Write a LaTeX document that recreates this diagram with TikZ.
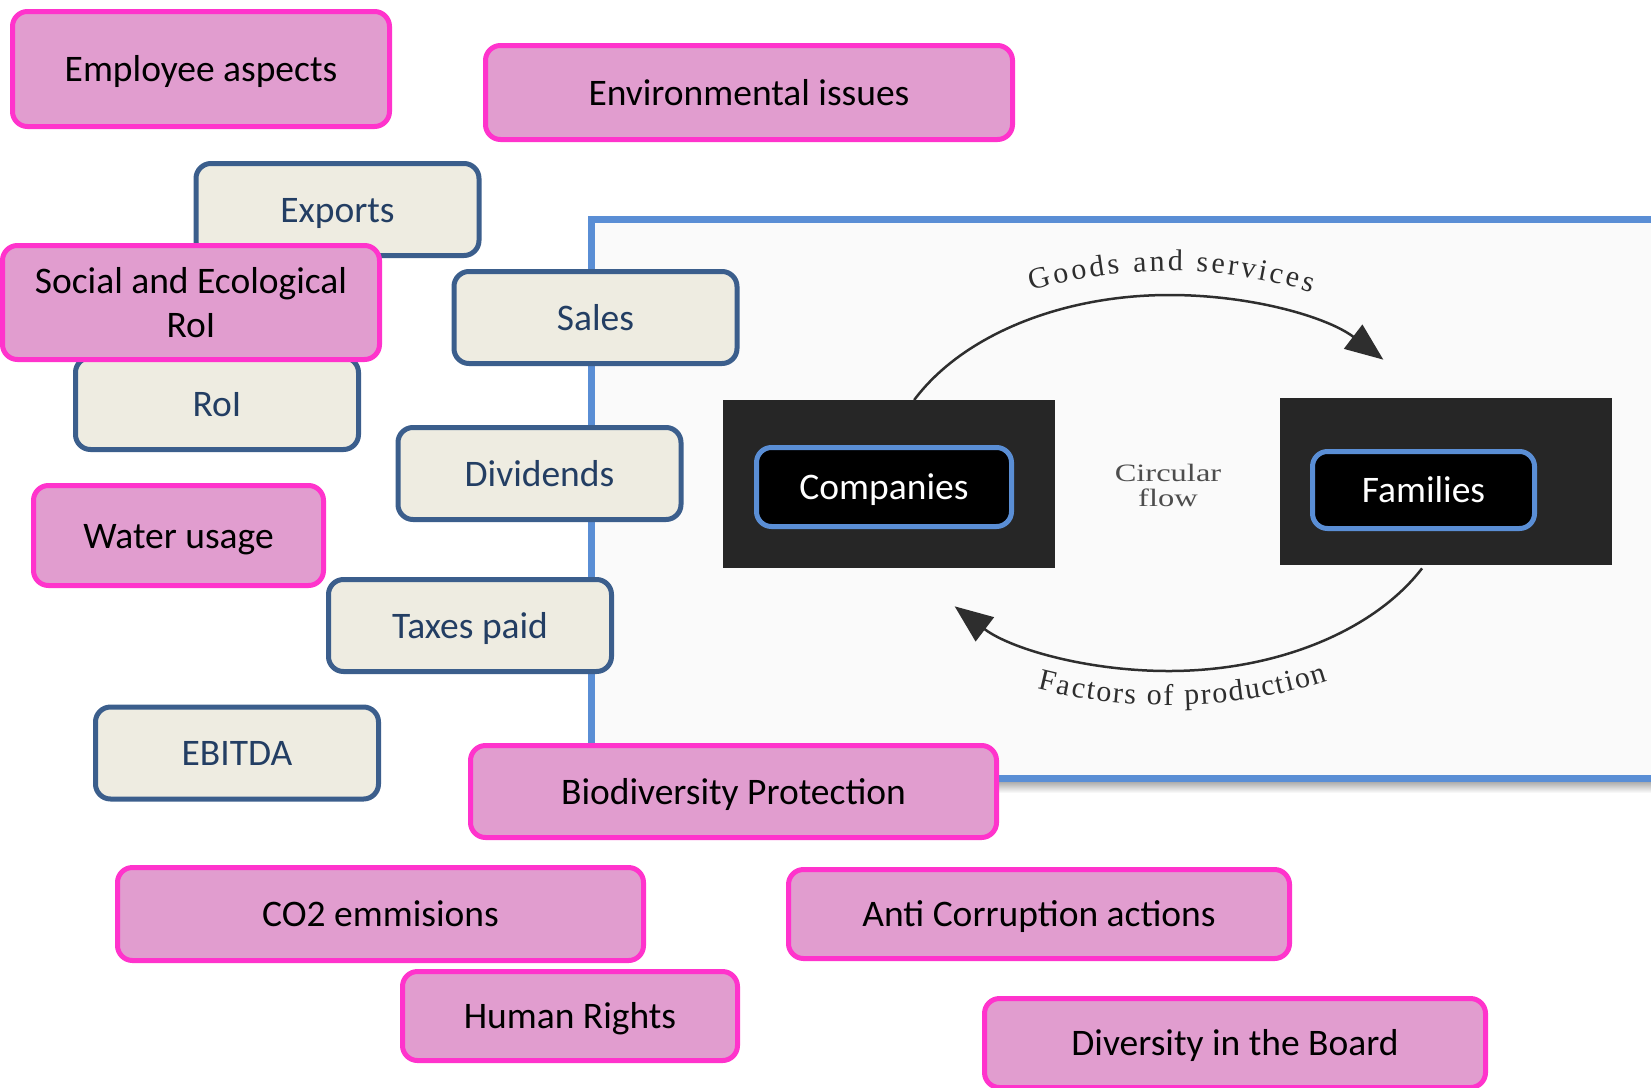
\documentclass[tikz,border=0pt]{standalone}
\usepackage{fontspec}
\usepackage{graphicx}
\setmainfont{Carlito}
\newfontfamily\scanfont{Liberation Serif}
\usetikzlibrary{arrows.meta,decorations.text,calc}
\definecolor{pinkfill}{HTML}{E19DCF}
\definecolor{pinkline}{HTML}{FF33CC}
\definecolor{beigefill}{HTML}{EEECE1}
\definecolor{beigeline}{HTML}{3B5E8C}
\definecolor{beigetext}{HTML}{233E63}
\definecolor{frameblue}{HTML}{5A8ED5}
\definecolor{scanbg}{HTML}{FAFAFA}
\definecolor{scandark}{HTML}{262626}
\definecolor{scanink}{HTML}{2E2E2E}
\begin{document}
\begin{tikzpicture}[x=1pt,y=-1pt,
  box/.style={rounded corners=15pt, line width=5pt, inner sep=0pt, align=center,
    font=\fontsize{37.5}{44}\selectfont, text height=33pt, text depth=8pt},
  pinkbox/.style={box, fill=pinkfill, draw=pinkline, text=black},
  beigebox/.style={box, fill=beigefill, draw=beigeline, text=beigetext,
    minimum width=283pt, minimum height=92pt},
  darkbox/.style={box, fill=black, draw=frameblue, text=white},
  scanrect/.style={fill=scandark, draw=none, inner sep=0pt},
  scanlabel/.style={font=\scanfont\fontsize{25}{25}\selectfont, text=scanink!85, inner sep=0pt, anchor=base},
  flow/.style={draw=scanink, line width=2.5pt, -{Triangle[length=38pt,width=30pt]}}
]
\path[use as bounding box] (0,0) rectangle (1651,1087);
\clip (0,0) rectangle (1651,1087);
\fill[white] (0,0) rectangle (1651,1087);

% frame with scanned picture
\fill[scanbg] (591,219.5) rectangle (1660,778.5);
\shade[top color=gray!70, bottom color=white] (999,781) rectangle (1660,793);
\draw[frameblue, line width=7pt] (1660,219.5) -- (591,219.5) -- (591,778.5) -- (1660,778.5);

\node[scanrect, minimum width=332pt, minimum height=168pt] (compRect) at (889,484) {};
\node[scanrect, minimum width=332pt, minimum height=167pt] (famRect) at (1446,481.5) {};

\coordinate (cc) at (1169,483);
\coordinate (gsStart) at ($(cc)+(-153.8:284 and 188)$);
\coordinate (fpStart) at ($(cc)+(27:284 and 188)$);
\draw[flow] (gsStart) arc[start angle=-153.8, end angle=-41, x radius=284, y radius=188];
\draw[flow] (fpStart) arc[start angle=27, end angle=139, x radius=284, y radius=188];

\path[decorate, decoration={text along path, text align={fit to path}, text color=scanink,
  text={|\scanfont\fontsize{30}{30}\selectfont|Goods and services}}]
  ($(cc)+(-115:325 and 212)$) arc[start angle=-115, end angle=-64, x radius=325, y radius=212];
\path[decorate, decoration={text along path, text align={fit to path}, text color=scanink,
  text={|\scanfont\fontsize{30}{30}\selectfont|Factors of production}}]
  ($(cc)+(112:350 and 222)$) arc[start angle=112, end angle=63, x radius=350, y radius=222];

\node[scanlabel] (circ1) at (1168,481) {\scalebox{1.3}[1]{Circular}};
\node[scanlabel] (circ2) at (1168,506) {\scalebox{1.3}[1]{flow}};

\node[darkbox, minimum width=255pt, minimum height=79pt] (comp) at (884,487) {Companies};
\node[darkbox, minimum width=222pt, minimum height=77pt] (fam) at (1423.5,490) {Families};

% beige boxes
\node[beigebox] (exports) at (337.5,209.5) {Exports};
\node[beigebox] (sales) at (595.5,317.5) {Sales};
\node[beigebox] (roi) at (217,403.5) {RoI};
\node[beigebox] (dividends) at (539.5,473.5) {Dividends};
\node[beigebox] (taxes) at (470,625.5) {Taxes paid};
\node[beigebox] (ebitda) at (237,753) {EBITDA};

% pink boxes
\node[pinkbox, minimum width=377pt, minimum height=115pt] (employee) at (201,69) {Employee aspects};
\node[pinkbox, minimum width=527pt, minimum height=94pt] (environ) at (749,92.5) {Environmental issues};
\node[pinkbox, minimum width=377pt, minimum height=114pt, text height={}, text depth={}] (social) at (191,302.5) {Social and Ecological\\RoI};
\node[pinkbox, minimum width=290pt, minimum height=100pt] (water) at (178.5,535.5) {Water usage};
\node[pinkbox, minimum width=526pt, minimum height=92pt] (bio) at (733.5,791.5) {Biodiversity Protection};
\node[pinkbox, minimum width=526pt, minimum height=93pt] (co2) at (380.5,914) {CO2 emmisions};
\node[pinkbox, minimum width=335pt, minimum height=89pt] (human) at (570,1016) {Human Rights};
\node[pinkbox, minimum width=501pt, minimum height=89pt] (anti) at (1039,914) {Anti Corruption actions};
\node[pinkbox, minimum width=501pt, minimum height=89pt] (diversity) at (1235,1043) {Diversity in the Board};
\end{tikzpicture}
\end{document}
